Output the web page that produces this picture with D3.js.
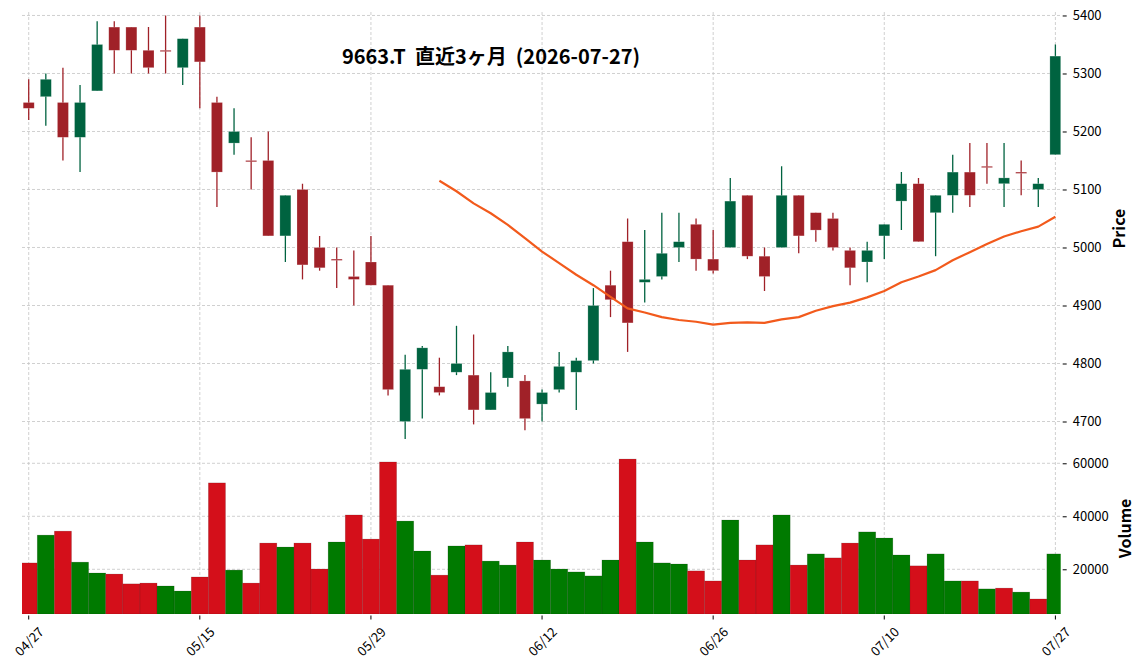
<!DOCTYPE html>
<html>
<head>
  <meta charset="utf8" />
  <style>
    body {
      margin: 0;
      background: #fff;
    }
    text {
      font-family: "Noto Sans CJK JP", "Noto Sans", sans-serif;
      fill: #000;
    }
    .grid line {
      stroke: #c4c4c4;
      stroke-width: 0.8;
      stroke-dasharray: 3,2;
    }
  </style>
</head>
<body>
  <script src="https://d3js.org/d3.v7.min.js"></script>

  <script>
    var dates = ["04/27","04/28","04/30","05/01","05/07","05/08","05/11","05/12","05/13","05/14",
                 "05/15","05/18","05/19","05/20","05/21","05/22","05/25","05/26","05/27","05/28",
                 "05/29","06/01","06/02","06/03","06/04","06/05","06/08","06/09","06/10","06/11",
                 "06/12","06/15","06/16","06/17","06/18","06/19","06/22","06/23","06/24","06/25",
                 "06/26","06/29","06/30","07/01","07/02","07/03","07/06","07/07","07/08","07/09",
                 "07/10","07/13","07/14","07/15","07/16","07/17","07/21","07/22","07/23","07/24","07/27"];

    var opens = [5250,5260,5250,5190,5270,5380,5380,5340,5340,5310,
                 5380,5250,5180,5150,5150,5020,5100,5000,4980,4950,
                 4975,4935,4700,4790,4760,4785,4780,4720,4775,4770,
                 4730,4755,4785,4805,4935,5010,4940,4950,5000,5040,
                 4980,5000,5090,4985,5000,5090,5060,5050,4995,4975,
                 5020,5080,5110,5060,5090,5130,5140,5110,5130,5100,5160];
    var highs = [5290,5300,5310,5280,5390,5390,5380,5380,5400,5360,
                 5400,5260,5240,5190,5200,5090,5110,5020,5000,4995,
                 5020,4935,4815,4830,4810,4865,4850,4785,4830,4780,
                 4755,4820,4810,4930,4960,5050,5030,5060,5060,5050,
                 5030,5120,5090,5000,5140,5090,5060,5060,5000,5010,
                 5040,5130,5120,5090,5160,5180,5180,5180,5150,5120,5350];
    var lows = [5220,5210,5150,5130,5270,5300,5300,5300,5300,5280,
                5240,5070,5160,5100,5020,4975,4945,4960,4930,4900,
                4935,4745,4670,4705,4745,4780,4695,4720,4760,4685,
                4700,4750,4720,4800,4880,4820,4905,4945,4975,4960,
                4955,5000,4980,4925,5000,4990,5010,4995,4935,4940,
                4980,5030,5010,4985,5060,5070,5110,5070,5090,5070,5160];
    var closes = [5240,5290,5190,5250,5350,5340,5340,5310,5340,5360,
                  5320,5130,5200,5150,5020,5090,4970,4965,4980,4945,
                  4935,4755,4790,4827,4750,4800,4720,4750,4820,4705,
                  4750,4795,4805,4900,4910,4870,4945,4990,5010,4980,
                  4960,5080,4985,4950,5090,5020,5030,5000,4965,4995,
                  5040,5110,5010,5090,5130,5090,5140,5120,5130,5110,5330];
    var volumes = [22400,32900,34400,22700,18600,18200,14500,14800,13700,11800,
                   17100,52600,19700,14800,29900,28400,29900,20100,30300,40500,
                   31400,60500,38200,26900,17800,28800,29200,23100,21600,30300,
                   23500,20100,19000,17500,23500,61600,30300,22400,22000,19400,
                   15600,38600,23500,29200,40500,21600,25800,24300,29900,34100,
                   31800,25400,21300,25800,15600,15600,12600,12900,11400,8800,25800];
    var ma25 = [null,null,null,null,null,null,null,null,null,null,
                null,null,null,null,null,null,null,null,null,null,
                null,null,null,null,
                5115,5097,5076,5059,5039,5016,4993,4973,4953,4935,
                4915,4895,4888,4880,4875,4872,4867,4870,4871,4870,
                4876,4880,4891,4899,4905,4914,4925,4940,4950,4961,
                4978,4992,5006,5019,5028,5036,5053];

    var priceTicks = [4700,4800,4900,5000,5100,5200,5300,5400];
    var volumeTicks = [20000,40000,60000];
    var dateTicks = [0,10,20,30,40,50,60];
    var title = "9663.T  直近3ヶ月  (2026-07-27)";

    var width = 1144, height = 671;
    var left = 22, right = 1060.7;
    var priceTop = 12, priceBottom = 441;
    var volTop = 442.7, volBottom = 614;

    var upColor = "#006340", downColor = "#a02128";
    var volUp = "#007a00", volDown = "#d40f1a";

    var x = d3.scaleLinear().domain([-0.392, 60.31]).range([left, right]);
    var step = x(1) - x(0);
    var y = d3.scaleLinear().domain([4666.4, 5406]).range([priceBottom, priceTop]);
    var yv = d3.scaleLinear().domain([3130, 67770]).range([volBottom, volTop]);

    var svg = d3.select("body").append("svg").attr("width", width).attr("height", height);

    var defs = svg.append("defs");
    defs.append("clipPath").attr("id", "clip-price")
      .append("rect").attr("x", left).attr("y", priceTop).attr("width", right - left).attr("height", priceBottom - priceTop);
    defs.append("clipPath").attr("id", "clip-vol")
      .append("rect").attr("x", left).attr("y", volTop).attr("width", right - left).attr("height", volBottom - volTop);

    // grids
    var grid = svg.append("g").attr("class", "grid");
    grid.selectAll(".gx").data(dateTicks).enter().append("line")
        .attr("x1", d => x(d)).attr("x2", d => x(d))
        .attr("y1", priceTop).attr("y2", volBottom);
    grid.selectAll(".gy").data(priceTicks).enter().append("line")
        .attr("x1", left).attr("x2", right)
        .attr("y1", d => y(d)).attr("y2", d => y(d));
    grid.selectAll(".gv").data(volumeTicks).enter().append("line")
        .attr("x1", left).attr("x2", right)
        .attr("y1", d => yv(d)).attr("y2", d => yv(d));

    // volume
    var vol = svg.append("g").attr("clip-path", "url(#clip-vol)");
    vol.selectAll("rect").data(volumes).enter().append("rect")
        .attr("x", (d, i) => x(i) - step / 2)
        .attr("width", step)
        .attr("y", d => yv(d))
        .attr("height", d => volBottom - yv(d))
        .attr("fill", (d, i) => {
          var up = i === 0 ? closes[0] > opens[0] : closes[i] > closes[i - 1];
          return up ? volUp : volDown;
        })
        .attr("stroke", "rgba(0,0,0,0.18)")
        .attr("stroke-width", 0.7);

    // candles
    var bodyW = 11;
    var price = svg.append("g").attr("clip-path", "url(#clip-price)");
    var candles = price.selectAll("g.c").data(d3.range(opens.length)).enter().append("g")
        .attr("class", "c");
    candles.append("line")
        .attr("x1", i => x(i)).attr("x2", i => x(i))
        .attr("y1", i => y(highs[i])).attr("y2", i => y(lows[i]))
        .attr("stroke", i => closes[i] > opens[i] ? upColor : downColor)
        .attr("stroke-width", 1.3);
    candles.append("rect")
        .attr("x", i => x(i) - bodyW / 2)
        .attr("width", bodyW)
        .attr("y", i => y(Math.max(opens[i], closes[i])))
        .attr("height", i => Math.max(1.3, Math.abs(y(opens[i]) - y(closes[i]))))
        .attr("fill", i => closes[i] > opens[i] ? upColor : downColor)
        .attr("stroke", "rgba(255,255,255,0.35)")
        .attr("stroke-width", 0.6);

    // moving average
    var line = d3.line()
        .defined(d => d != null)
        .x((d, i) => x(i))
        .y(d => y(d));
    price.append("path")
        .datum(ma25)
        .attr("d", line)
        .attr("fill", "none")
        .attr("stroke", "#f25a1c")
        .attr("stroke-width", 2.2)
        .attr("stroke-linejoin", "round");

    // right axes
    var yAxis = d3.axisRight(y).tickValues(priceTicks).tickSize(4).tickPadding(6).tickFormat(d3.format("d"));
    svg.append("g").attr("transform", "translate(" + (right + 2) + ",0)").call(yAxis)
        .call(g => g.select(".domain").remove())
        .call(g => g.selectAll("text").style("font-size", "13px"));
    var vAxis = d3.axisRight(yv).tickValues(volumeTicks).tickSize(4).tickPadding(6).tickFormat(d3.format("d"));
    svg.append("g").attr("transform", "translate(" + (right + 2) + ",0)").call(vAxis)
        .call(g => g.select(".domain").remove())
        .call(g => g.selectAll("text").style("font-size", "13px"));

    // bottom ticks
    var xt = svg.append("g");
    xt.selectAll("line").data(dateTicks).enter().append("line")
        .attr("x1", d => x(d)).attr("x2", d => x(d))
        .attr("y1", volBottom + 1.5).attr("y2", volBottom + 5.5)
        .attr("stroke", "#000").attr("stroke-width", 1);
    xt.selectAll("text").data(dateTicks).enter().append("text")
        .attr("transform", d => "translate(" + x(d) + "," + (volBottom + 27) + ") rotate(-45)")
        .attr("text-anchor", "middle")
        .attr("dominant-baseline", "central")
        .style("font-size", "13px")
        .text(d => dates[d]);

    // labels
    svg.append("text")
        .attr("transform", "translate(1118," + ((priceTop + priceBottom) / 2 + 2) + ") rotate(-90)")
        .attr("text-anchor", "middle")
        .attr("dominant-baseline", "central")
        .style("font-size", "16px").style("font-weight", "bold")
        .text("Price");
    svg.append("text")
        .attr("transform", "translate(1124," + ((volTop + volBottom) / 2) + ") rotate(-90)")
        .attr("text-anchor", "middle")
        .attr("dominant-baseline", "central")
        .style("font-size", "16px").style("font-weight", "bold")
        .text("Volume");

    svg.append("text")
        .attr("x", 491).attr("y", 64)
        .attr("text-anchor", "middle")
        .style("font-size", "20px").style("font-weight", "bold")
        .style("white-space", "pre")
        .text(title);
  </script>
</body>
</html>
